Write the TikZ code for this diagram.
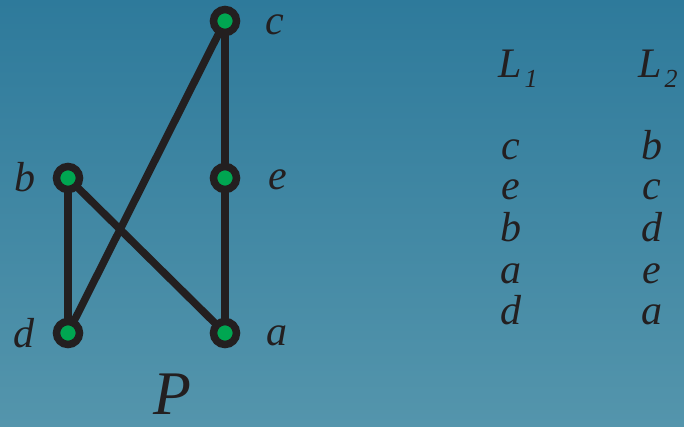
\documentclass[tikz,border=0pt]{standalone}
\usepackage{fontspec}
\setmainfont{Liberation Serif}
\definecolor{bgtop}{RGB}{46,122,155}
\definecolor{bgbot}{RGB}{84,149,172}
\definecolor{ink}{RGB}{35,31,32}
\definecolor{vgreen}{RGB}{0,166,81}
\tikzset{
  vtx/.style={circle, draw=ink, line width=7.5pt, fill=vgreen, minimum size=23pt, inner sep=0pt},
  edge/.style={draw=ink, line width=7.5pt},
  lbl/.style={font=\fontsize{42}{44}\selectfont\itshape, text=ink, inner sep=0pt},
  big/.style={font=\fontsize{62}{64}\selectfont\itshape, text=ink, inner sep=0pt}
}
\begin{document}
\begin{tikzpicture}[x=1pt,y=-1pt]
\shade[top color=bgtop, bottom color=bgbot] (0,0) rectangle (684,426);
\useasboundingbox (0,0) rectangle (684,426);
\coordinate (c) at (225,21);
\coordinate (e) at (225,178);
\coordinate (a) at (225,333);
\coordinate (b) at (68,178);
\coordinate (d) at (68,333);
\path[edge] (c) -- (e);
\path[edge] (e) -- (a);
\path[edge] (b) -- (d);
\path[edge] (b) -- (a);
\path[edge] (c) -- (d);
\node[vtx] (nc) at (c) {};
\node[vtx] (ne) at (e) {};
\node[vtx] (na) at (a) {};
\node[vtx] (nb) at (b) {};
\node[vtx] (nd) at (d) {};
\node[lbl, anchor=base] (lc) at (275,34) {c};
\node[lbl, anchor=base] (le) at (278,189) {e};
\node[lbl, anchor=base] (la) at (277,345) {a};
\node[lbl, anchor=base] (lb) at (25,191) {b};
\node[lbl, anchor=base] (ld) at (24,347) {d};
\node[big, anchor=base] (P) at (172,414) {P};
\node[lbl, anchor=base west] (L1) at (498,77) {L\hspace{3pt}\raisebox{-10pt}{\fontsize{26}{28}\selectfont 1}};
\node[lbl, anchor=base west] (L2) at (638,77) {L\hspace{3pt}\raisebox{-10pt}{\fontsize{26}{28}\selectfont 2}};
\foreach \t/\y in {c/159,e/199,b/241,a/283,d/324}{
  \node[lbl, anchor=base] at (511,\y) {\t};
}
\foreach \t/\y in {b/159,c/199,d/241,e/283,a/324}{
  \node[lbl, anchor=base] at (652,\y) {\t};
}
\end{tikzpicture}
\end{document}
